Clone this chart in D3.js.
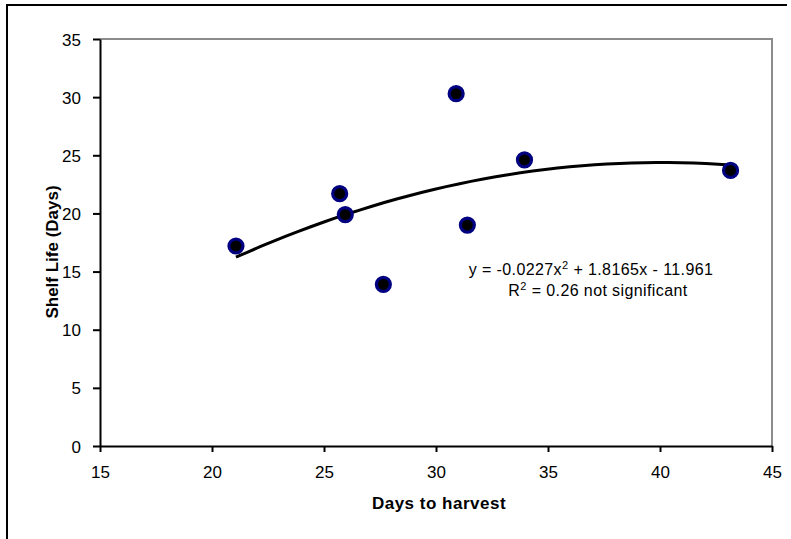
<!DOCTYPE html>
<html>
<head>
<meta charset="utf-8">
<script src="https://cdn.jsdelivr.net/npm/d3@7"></script>
<style>
  html, body { margin: 0; padding: 0; background: #fff; }
  svg { display: block; font-family: "Liberation Sans", Arial, sans-serif; }
  .tick text { font-size: 17px; fill: #000; }
  .axis-label { font-size: 17px; font-weight: bold; }
  .fit-text { font-size: 16px; letter-spacing: 0.4px; }
</style>
</head>
<body>
<div id="chart"></div>
<script>
// data
const daysToHarvest = [21.07, 25.7, 25.95, 27.65, 30.9, 31.4, 33.95, 43.15];
const shelfLife = [17.2, 21.7, 19.9, 13.9, 30.3, 19.0, 24.6, 23.7];
const xTicks = [15, 20, 25, 30, 35, 40, 45];
const yTicks = [0, 5, 10, 15, 20, 25, 30, 35];
// polynomial trendline coefficients, as printed on the chart (a x^2 + b x + c)
const trendCoef = [-0.0227, 1.8165, -11.961];
const yLabel = 'Shelf Life (Days)';

const W = 791, H = 539;
const margin = { top: 39, right: 19, bottom: 93, left: 100 };
const width = W - margin.left - margin.right;
const height = H - margin.top - margin.bottom;

const svg = d3.select('#chart')
  .append('svg')
  .attr('width', W)
  .attr('height', H);

// outer frame (only top and left edges visible)
svg.append('path')
  .attr('d', `M7,${H + 2}V5H787`)
  .attr('fill', 'none')
  .attr('stroke', '#000')
  .attr('stroke-width', 2);

const chart = svg.append('g')
  .attr('transform', `translate(${margin.left},${margin.top})`);

const x = d3.scaleLinear().domain([15, 45]).range([0, width]);
const y = d3.scaleLinear().domain([0, 35]).range([height, 0]);

// gray top and right edges of the plot area
chart.append('path')
  .attr('d', `M0,0H${width}V${height}`)
  .attr('fill', 'none')
  .attr('stroke', '#8c8c8c')
  .attr('stroke-width', 2);

const xAxis = d3.axisBottom(x).tickValues(xTicks).tickSize(6).tickSizeOuter(0).tickPadding(14);
const yAxis = d3.axisLeft(y).tickValues(yTicks).tickSize(7).tickSizeOuter(0).tickPadding(12);

const gx = chart.append('g')
  .attr('transform', `translate(0,${height})`)
  .call(xAxis);
const gy = chart.append('g').call(yAxis);

[gx, gy].forEach(g => {
  g.select('.domain').attr('stroke', '#000').attr('stroke-width', 2);
  g.selectAll('.tick line').attr('stroke', '#000').attr('stroke-width', 2);
  g.selectAll('.tick text').attr('font-family', null).attr('font-size', null);
});
gy.selectAll('.tick text').attr('dy', '0.36em');

chart.append('text')
  .attr('class', 'axis-label')
  .attr('x', 339)
  .attr('y', height + 63)
  .attr('text-anchor', 'middle')
  .attr('letter-spacing', 0.5)
  .text('Days to harvest');

// y label, vertical, spanning the same band as in the reference
svg.append('text')
  .attr('class', 'axis-label')
  .attr('transform', 'translate(58,252) rotate(-90)')
  .attr('text-anchor', 'middle')
  .text(yLabel);

// trendline from the printed coefficients
const trend = v => trendCoef[0] * v * v + trendCoef[1] * v + trendCoef[2];
const xMin = d3.min(daysToHarvest), xMax = d3.max(daysToHarvest);
const trendPts = d3.range(0, 41).map(i => {
  const v = xMin + (xMax - xMin) * i / 40;
  return [v, trend(v)];
});

chart.append('path')
  .datum(trendPts)
  .attr('fill', 'none')
  .attr('stroke', '#000')
  .attr('stroke-width', 3)
  .attr('d', d3.line().x(d => x(d[0])).y(d => y(d[1])));

chart.selectAll('.dot')
  .data(daysToHarvest.map((d, i) => ({ days: d, life: shelfLife[i] })))
  .enter()
  .append('circle')
  .attr('class', 'dot')
  .attr('cx', d => x(d.days))
  .attr('cy', d => y(d.life))
  .attr('r', 7)
  .attr('fill', '#000')
  .attr('stroke', '#000080')
  .attr('stroke-width', 3.2);

// equation and R² annotation
const eq = svg.append('text')
  .attr('class', 'fit-text')
  .attr('x', 591)
  .attr('y', 275)
  .attr('text-anchor', 'middle');
eq.append('tspan').text('y = -0.0227x');
eq.append('tspan').attr('font-size', 11).attr('dy', -6).text('2');
eq.append('tspan').attr('dy', 6).text(' + 1.8165x - 11.961');

const r2 = svg.append('text')
  .attr('class', 'fit-text')
  .attr('x', 598)
  .attr('y', 296)
  .attr('text-anchor', 'middle');
r2.append('tspan').text('R');
r2.append('tspan').attr('font-size', 11).attr('dy', -6).text('2');
r2.append('tspan').attr('dy', 6).text(' = 0.26 not significant');
</script>
</body>
</html>
